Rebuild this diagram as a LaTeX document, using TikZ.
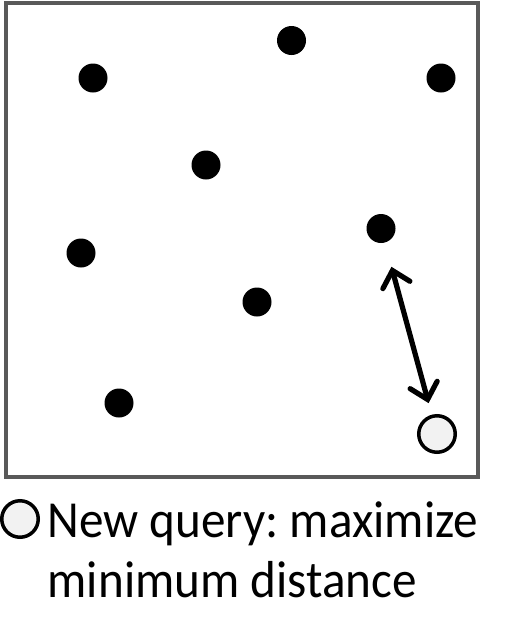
\documentclass[tikz,border=0pt]{standalone}
\usepackage{fontspec}
\setmainfont{Carlito}[FakeStretch=0.945]
\usetikzlibrary{arrows.meta}
\begin{document}
\frenchspacing
\begin{tikzpicture}[x=1pt,y=-1pt,
  pt/.style={circle,fill=black,inner sep=0pt,minimum size=29pt},
  query/.style={circle,draw=black,line width=3.5pt,fill=black!5,inner sep=0pt,minimum size=36.5pt},
  frame/.style={draw=black!65,line width=3.5pt},
  legend/.style={anchor=base west,inner sep=0pt,font=\fontsize{52}{60}\selectfont},
  dist/.style={line width=5.2pt,{Straight Barb[length=15pt,width=28pt,line cap=round]}-{Straight Barb[length=15pt,width=28pt,line cap=round]}}
]
\useasboundingbox (0,0) rectangle (526,619);
\draw[frame] (6,3) rectangle (478,477);
\node[pt] (p1) at (93,78) {};
\node[pt] (p2) at (291.5,40.5) {};
\node[pt] (p3) at (441,78) {};
\node[pt] (p4) at (206,165) {};
\node[pt] (p5) at (81,253) {};
\node[pt] (p6) at (381,228.5) {};
\node[pt] (p7) at (257,302) {};
\node[pt] (p8) at (119,403) {};
\node[query] (q) at (437,434) {};
\draw[dist,shorten <=25pt,shorten >=12pt] (p6) -- (q);
\node[query] (lq) at (20,519) {};
\node[legend] (t1) at (47.5,537.5) {New query: maximize};
\node[legend] (t2) at (47.5,597.5) {minimum distance};
\end{tikzpicture}
\end{document}
